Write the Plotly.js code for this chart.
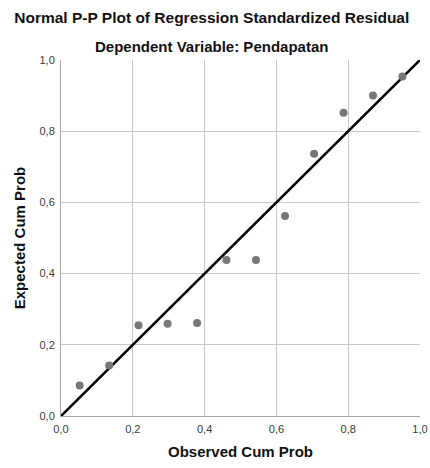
<!DOCTYPE html>
<html>
<head>
<meta charset="utf-8">
<script src="https://cdn.plot.ly/plotly-3.0.1.min.js"></script>
<style>html,body{margin:0;padding:0;background:#fff;}#chart{width:430px;height:468px;}</style>
</head>
<body>
<div id="chart"></div>
<script>
var observedCumProb = [0.052, 0.134, 0.216, 0.297, 0.379, 0.461, 0.543, 0.624, 0.705, 0.787, 0.869, 0.951];
var expectedCumProb = [0.086, 0.142, 0.255, 0.259, 0.261, 0.438, 0.438, 0.562, 0.737, 0.852, 0.900, 0.954];
var refLine = [0, 1];
var tickVals = [0, 0.2, 0.4, 0.6, 0.8, 1.0];
var tickLabels = ["0,0", "0,2", "0,4", "0,6", "0,8", "1,0"];

var font = "Arial, 'Liberation Sans', sans-serif";

var traces = [
  {
    x: refLine, y: refLine, mode: "lines", type: "scatter",
    line: {color: "#000000", width: 2.6}, hoverinfo: "skip", showlegend: false
  },
  {
    x: observedCumProb, y: expectedCumProb, mode: "markers", type: "scatter",
    marker: {color: "#777777", size: 8}, showlegend: false, cliponaxis: false
  }
];

var axisCommon = {
  range: [0, 1],
  tickvals: tickVals,
  ticktext: tickLabels,
  showgrid: true,
  gridcolor: "#c8c8c8",
  gridwidth: 1,
  showline: true,
  linecolor: "#a6a6a6",
  linewidth: 1,
  zeroline: false,
  ticks: "",
  tickfont: {family: font, size: 11, color: "#3a3a3a"},
  fixedrange: true
};

var layout = {
  width: 430, height: 468,
  margin: {l: 61, r: 10, t: 60, b: 52},
  paper_bgcolor: "#ffffff",
  plot_bgcolor: "#ffffff",
  title: {
    text: "<b>Normal P-P Plot of Regression Standardized Residual</b>",
    font: {family: font, size: 15.5, color: "#111111"},
    x: 0.42, xref: "paper", xanchor: "center",
    y: 1 - 18/468, yref: "container", yanchor: "middle"
  },
  annotations: [
    {
      text: "<b>Dependent Variable: Pendapatan</b>",
      xref: "paper", yref: "paper", x: 0.42, y: 1 + 13/355.5,
      xanchor: "center", yanchor: "middle", showarrow: false,
      font: {family: font, size: 15, color: "#111111"}
    }
  ],
  xaxis: Object.assign({}, axisCommon, {
    title: {text: "<b>Observed Cum Prob</b>", font: {family: font, size: 15, color: "#111111"}, standoff: 12},
    ticklabelstandoff: 3
  }),
  yaxis: Object.assign({}, axisCommon, {
    title: {text: "<b>Expected Cum Prob</b>", font: {family: font, size: 15, color: "#111111"}, standoff: 10},
    ticklabelstandoff: 3
  }),
  showlegend: false
};

Plotly.newPlot("chart", traces, layout, {displayModeBar: false, staticPlot: true});
</script>
</body>
</html>
